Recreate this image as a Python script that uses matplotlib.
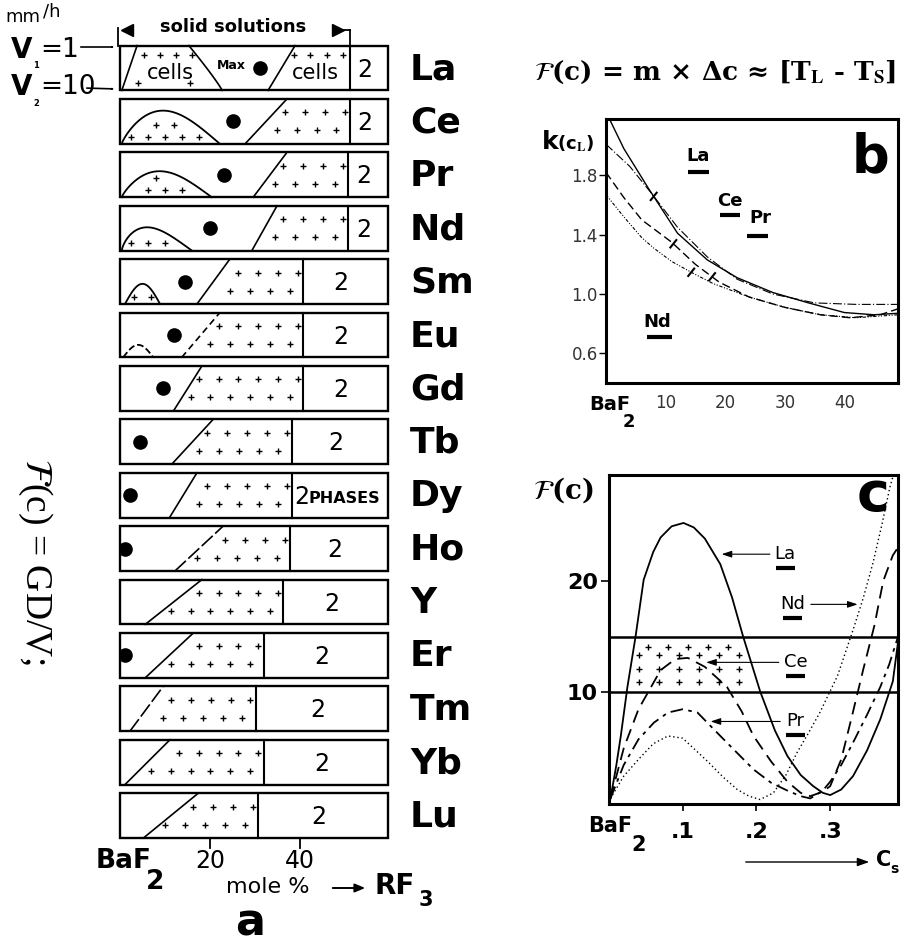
import numpy as np
import matplotlib
matplotlib.use("Agg")
import matplotlib.pyplot as plt
from matplotlib.patches import Rectangle

plt.rcParams["mathtext.fontset"] = "stix"
plt.rcParams["font.family"] = ["DejaVu Sans"]

W, H = 904, 948

# ---------------- panel a data (mole % RF3 at V1 = top edge, V2 = bottom edge) ----------------
elements    = ["La", "Ce", "Pr", "Nd", "Sm", "Eu", "Gd", "Tb", "Dy", "Ho", "Y", "Er", "Tm", "Yb", "Lu"]
ss_bottom   = [32.9, 27.8, 29.6, 29.3, 17.1, 13.7, 11.9, 11.5, 11.0, 12.2, 5.6, 5.6, 2.2, 1.1, 5.2]
ss_top      = [38.9, 37.1, 37.1, 34.9, 24.4, 22.2, 18.2, 20.7, 17.1, 22.9, 18.2, 16.3, 9.6, 11.1, 17.4]
two_phase   = [51.1, 51.1, 50.7, 50.7, 40.7, 40.7, 40.7, 38.2, 38.2, 37.8, 36.3, 31.9, 30.2, 31.9, 30.7]
max_pos     = [31.1, 25.1, 23.2, 20.0, 14.4, 11.9, 9.6, 4.4, 2.2, 1.2, None, 1.2, None, None, None]
dome_start  = [None, 0.4, 0.4, 0.4, 1.1, 0.7] + [None] * 9
dome_end    = [None, 22.2, 20.4, 16.0, 8.9, 7.4] + [None] * 9
dome_height = [None, 0.74, 0.58, 0.52, 0.45, 0.28] + [None] * 9
dome_peak   = [None, 0.42, 0.42, 0.36, 0.5, 0.5] + [None] * 9
la_cells_left = (0.4, 3.8)     # bottom, top
la_cells_right = (22.7, 15.3)  # bottom, top
box_right = 59.6
a_ticks = [20, 40]

# ---------------- panel b data ----------------
b_la_x = [0.7, 3, 7, 12, 17, 22, 28, 34, 40, 45, 49]
b_la_y = [2.17, 1.98, 1.72, 1.41, 1.23, 1.11, 1.01, 0.94, 0.875, 0.86, 0.87]
b_ce_x = [0, 4, 8, 12, 17, 22, 28, 35, 42, 49]
b_ce_y = [2.01, 1.86, 1.66, 1.45, 1.25, 1.10, 1.00, 0.94, 0.93, 0.93]
b_pr_x = [0, 3, 6, 11, 15, 19, 24, 30, 36, 41, 46, 49]
b_pr_y = [1.82, 1.65, 1.50, 1.35, 1.20, 1.08, 0.98, 0.91, 0.86, 0.84, 0.86, 0.90]
b_nd_x = [0, 3, 6, 8, 11, 14.6, 18, 24, 30, 36, 42, 49]
b_nd_y = [1.67, 1.52, 1.38, 1.31, 1.22, 1.14, 1.07, 0.98, 0.91, 0.86, 0.84, 0.86]
b_yticks = [0.6, 1.0, 1.4, 1.8]
b_ytick_labels = ["0.6", "1.0", "1.4", "1.8"]
b_xticks = [10, 20, 30, 40]
b_labels = ["La", "Ce", "Pr", "Nd"]
b_label_x = [15.5, 20.8, 25.9, 8.6]
b_label_y = [1.93, 1.63, 1.51, 0.81]
b_bar_x0 = [13.8, 19.2, 23.7, 6.9]
b_bar_x1 = [17.3, 22.5, 27.2, 11.1]
b_bar_y = [1.82, 1.53, 1.39, 0.71]

# ---------------- panel c data ----------------
c_la_x = [0.002, 0.01, 0.016, 0.025, 0.036, 0.047, 0.06, 0.07, 0.085, 0.101, 0.115, 0.13, 0.151, 0.167,
          0.182, 0.205, 0.225, 0.242, 0.26, 0.277, 0.29, 0.30, 0.315, 0.331, 0.35, 0.368, 0.385, 0.392]
c_la_y = [0.5, 3.5, 6.1, 10.5, 15.0, 20.1, 22.6, 23.9, 24.9, 25.2, 24.8, 23.8, 21.5, 18.5,
          15.0, 10.1, 6.6, 4.3, 2.6, 1.6, 1.0, 0.8, 1.3, 2.5, 4.8, 7.6, 11.0, 14.5]
c_ce_x = [0.002, 0.02, 0.04, 0.07, 0.09, 0.107, 0.13, 0.16, 0.18, 0.196, 0.22, 0.242, 0.26, 0.273,
          0.29, 0.30, 0.315, 0.33, 0.345, 0.36, 0.372, 0.385, 0.392]
c_ce_y = [0.5, 5.0, 8.5, 12.0, 13.0, 13.1, 12.3, 10.5, 8.3, 6.1, 3.8, 2.0, 1.0, 0.7,
          1.1, 1.6, 4.0, 8.0, 12.1, 16.0, 20.0, 22.3, 23.0]
c_pr_x = [0.002, 0.02, 0.04, 0.061, 0.08, 0.10, 0.12, 0.151, 0.175, 0.196, 0.22, 0.242, 0.26, 0.273,
          0.29, 0.30, 0.315, 0.331, 0.35, 0.368, 0.38, 0.392]
c_pr_y = [0.5, 3.5, 5.8, 7.3, 8.2, 8.5, 8.2, 6.1, 4.5, 3.1, 1.9, 1.2, 0.7, 0.5,
          1.2, 2.0, 3.5, 5.5, 8.0, 10.5, 12.5, 15.0]
c_nd_x = [0.002, 0.02, 0.04, 0.06, 0.08, 0.10, 0.134, 0.155, 0.174, 0.19, 0.205, 0.223, 0.24, 0.255,
          0.27, 0.286, 0.31, 0.331, 0.345, 0.358, 0.37, 0.381, 0.392]
c_nd_y = [0.5, 2.5, 4.0, 5.4, 6.1, 5.9, 3.8, 2.4, 1.3, 0.7, 0.4, 1.0, 2.6, 4.6,
          6.3, 8.2, 11.5, 15.6, 18.5, 21.6, 25.0, 28.4, 31.0]
c_band = (10.0, 15.0)
c_yticks = [10, 20]
c_xticks = [0.1, 0.2, 0.3]
c_xtick_labels = [".1", ".2", ".3"]
c_labels = ["La", "Nd", "Ce", "Pr"]
c_label_x = [0.239, 0.249, 0.253, 0.253]
c_label_y = [22.4, 17.9, 12.7, 7.4]
c_arrow_from = [0.222, 0.270, 0.234, 0.236]
c_arrow_to = [0.149, 0.341, 0.128, 0.134]

# =====================================================================
fig = plt.figure(figsize=(W / 100, H / 100), dpi=100)


def fpx(x, y):
    return (x / W, 1 - y / H)


def ftext(x, y, s, **kw):
    fig.text(x / W, 1 - y / H, s, **kw)


def farrow(x1, y1, x2, y2, style="->", lw=1.2, **kw):
    fig.add_artist(matplotlib.patches.FancyArrowPatch(
        fpx(x1, y1), fpx(x2, y2), transform=fig.transFigure,
        arrowstyle=style, lw=lw, color="k", **kw))


# ---------------- panel a ----------------
PXM, X0 = 4.5, 120.0
ROW0, ROWH = 68.0, 53.4
axa = fig.add_axes([0, 0, 1, 1])
axa.set_xlim(-X0 / PXM, (W - X0) / PXM)
axa.set_ylim((H - ROW0) / ROWH, -ROW0 / ROWH)
axa.axis("off")

BH = 0.42


def yb(r, h):
    return r + BH - 2 * BH * np.asarray(h)


def ypx(y):
    return (y - ROW0) / ROWH


def mpx(x):
    return (x - X0) / PXM


def plus(ax, xs, ys, ms=4.2):
    ax.plot(xs, ys, ls="none", marker="+", ms=ms, mew=1.0, color="k", zorder=3)


line_styles = {"Eu": (0, (4, 2.5)), "Ho": (0, (9, 2)), "Tm": (0, (9, 2))}
SP = 4.4

for r, el in enumerate(elements):
    rect = Rectangle((0, r - BH), box_right, 2 * BH, fill=False, lw=1.7, ec="k", zorder=3)
    axa.add_patch(rect)
    axa.plot([two_phase[r]] * 2, [r - BH, r + BH], color="k", lw=1.5)
    ls = line_styles.get(el, "-")
    axa.plot([ss_bottom[r], ss_top[r]], [r + BH, r - BH], color="k", lw=1.2, ls=ls)

    rows = ((0.7, 1.2), (0.3, 3.0)) if r > 0 else ((0.78, 1.6),)
    for h, off in rows:
        xl = ss_bottom[r] + (ss_top[r] - ss_bottom[r]) * h
        xs = np.arange(two_phase[r] - off, xl + 1.0, -SP if r > 0 else -3.6)
        plus(axa, xs, np.full(len(xs), yb(r, h)))

    if el == "Dy":
        axa.text(two_phase[r] + 0.5, r + 0.03, "2", ha="left", va="center", fontsize=17)
        axa.text(two_phase[r] + 3.8, r + 0.07, "PHASES", ha="left", va="center",
                 fontsize=11.5, fontweight="bold")
    else:
        axa.text((two_phase[r] + box_right) / 2 - 1.0, r + 0.03, "2", ha="center", va="center",
                 fontsize=17)

    if max_pos[r] is not None:
        dot, = axa.plot(max_pos[r], r, "o", ms=9.5, color="k", zorder=4)
        dot.set_clip_path(rect)

    if dome_start[r] is not None:
        s, e = dome_start[r], dome_end[r]
        p = np.log(0.5) / np.log(dome_peak[r])
        x = np.linspace(s, e, 120)
        yv = dome_height[r] * np.sin(np.pi * ((x - s) / (e - s)) ** p)
        axa.plot(x, yb(r, yv), color="k", lw=1.3, ls=("--" if el == "Eu" else "-"))
        for k, hh in enumerate((0.16, 0.42)):
            cand = np.arange(s + 2.0 + k * 1.9, e, 3.8)
            dv = dome_height[r] * np.sin(np.pi * ((cand - s) / (e - s)) ** p)
            keep = cand[dv > hh + 0.13]
            plus(axa, keep, np.full(len(keep), yb(r, hh)))

    axa.text(mpx(410), r + 0.02, el, fontsize=26, fontweight="bold", ha="left", va="center")

# La special cells region
r = 0
axa.plot([la_cells_left[0], la_cells_left[1]], [r + BH, r - BH], color="k", lw=1.2)
hh = np.linspace(0, 1, 50)
xc = la_cells_right[0] - (la_cells_right[0] - la_cells_right[1]) * hh ** 1.1
axa.plot(xc, yb(r, hh), color="k", lw=1.2)
h = 0.78
xl = la_cells_left[0] + (la_cells_left[1] - la_cells_left[0]) * h
xr = la_cells_right[0] - (la_cells_right[0] - la_cells_right[1]) * h ** 1.1
xs = np.arange(xl + 2.2, xr - 0.8, 3.6)
plus(axa, xs, np.full(len(xs), yb(r, h)))
plus(axa, [xl + 1.0, xr - 1.5], [yb(r, 0.17)] * 2)
axa.text(11.1, r + 0.1, "cells", ha="center", va="center", fontsize=15)
axa.text(43.5, r + 0.1, "cells", ha="center", va="center", fontsize=15)
axa.text(24.7, r - 0.04, "Max", ha="center", va="center", fontsize=9, fontweight="bold")

# solid-solution bracket
axa.plot([-0.4, -0.4], [-BH, ypx(28)], color="k", lw=1.3)
axa.plot([51.1, 51.1], [-BH, ypx(30)], color="k", lw=1.3)
axa.plot([48.2, 51.1], [ypx(30)] * 2, color="k", lw=1.3)
axa.plot(mpx(127), ypx(30), marker="<", ms=8, color="k")
axa.plot(mpx(338), ypx(30), marker=">", ms=8, color="k")
axa.text(25.1, ypx(27), "solid solutions", ha="center", va="center", fontsize=13,
         fontweight="bold")

# x ticks of panel a
for t in a_ticks:
    axa.plot([t, t], [len(elements) - 1 + BH, ypx(848)], color="k", lw=1.3)
    axa.text(t, ypx(861), str(t), ha="center", va="center", fontsize=17)

# left annotations
ftext(5, 17, "mm", fontsize=13, va="center", ha="left")
ftext(43, 11, "/h", fontsize=13, va="center", ha="left")
ftext(22, 50, "V", fontsize=20, fontweight="bold", ha="center", va="center")
ftext(36, 66, "1", fontsize=6, fontweight="bold", ha="center", va="center")
ftext(40, 50, "=1", fontsize=19, ha="left", va="center")
farrow(78, 47, 117, 47)
ftext(22, 87, "V", fontsize=20, fontweight="bold", ha="center", va="center")
ftext(36, 103, "2", fontsize=6, fontweight="bold", ha="center", va="center")
ftext(40, 87, "=10", fontsize=19, ha="left", va="center")
farrow(84, 88, 117, 89)
ftext(35, 562, r"$\mathcal{F}$(c) = GD/V;", rotation=270, fontsize=27,
      family=["Liberation Serif", "DejaVu Serif"], ha="center", va="center")

ftext(96, 861, "BaF", fontsize=19, fontweight="bold", ha="left", va="center")
ftext(155, 882, "2", fontsize=19, fontweight="bold", ha="center", va="center")
ftext(268, 887, "mole %", fontsize=16, ha="center", va="center")
farrow(330, 888, 368, 888, style="-|>,head_length=6,head_width=2.5", lw=1.4)
ftext(375, 886, "RF", fontsize=20, fontweight="bold", ha="left", va="center")
ftext(426, 900, "3", fontsize=15, fontweight="bold", ha="center", va="center")
ftext(250, 935, "a", fontsize=32, fontweight="bold", ha="center", va="baseline")

# ---------------- panel b ----------------
axb = fig.add_axes([606 / W, 1 - 383 / H, 292 / W, 264 / H])
axb.set_xlim(0, 49)
axb.set_ylim(0.4, 2.18)
for sp in axb.spines.values():
    sp.set_linewidth(2.2)
axb.plot(b_la_x, b_la_y, color="k", lw=1.0)
axb.plot(b_ce_x, b_ce_y, color="k", lw=0.8, ls=(0, (8, 2, 1, 2)))
axb.plot(b_pr_x, b_pr_y, color="k", lw=1.0, ls=(0, (6, 3)))
axb.plot(b_nd_x, b_nd_y, color="k", lw=0.8, ls=(0, (3, 1.5, 1, 1.5, 1, 1.5)))
axb.set_yticks(b_yticks)
axb.set_yticklabels(b_ytick_labels, fontsize=12, color="#333333")
axb.tick_params(axis="y", direction="out", length=5, width=1, pad=1)
axb.set_xticks(b_xticks)
axb.set_xticklabels([str(t) for t in b_xticks], fontsize=12, color="#333333")
axb.tick_params(axis="x", length=0, pad=8)
for lab, x, y, x0, x1, yb_ in zip(b_labels, b_label_x, b_label_y, b_bar_x0, b_bar_x1, b_bar_y):
    axb.text(x, y, lab, fontsize=13, fontweight="bold", ha="center", va="center")
    axb.plot([x0, x1], [yb_, yb_], color="k", lw=3, solid_capstyle="butt")
# short solubility marks on curves
for cx, cy, x in ((b_la_x, b_la_y, 8.0), (b_pr_x, b_pr_y, 11.3), (b_nd_x, b_nd_y, 14.3), (b_pr_x, b_pr_y, 17.8)):
    y = np.interp(x, cx, cy)
    axb.plot([x - 0.5, x + 0.5], [y - 0.025, y + 0.025], color="k", lw=1.5)
axb.text(44.4, 1.92, "b", fontsize=38, fontweight="bold", ha="center", va="center")
ftext(589, 404, "BaF", fontsize=14, fontweight="bold", ha="left", va="center")
ftext(629, 422, "2", fontsize=13, fontweight="bold", ha="center", va="center")
ftext(542, 142, "k", fontsize=18, fontweight="bold", ha="left", va="center")
ftext(557, 144, r"(c$_{\mathbf{L}}$)", fontsize=13, fontweight="bold", ha="left", va="center")
ftext(715, 72, r"$\mathcal{F}$(c) = m × Δc ≈ [T$_{\mathbf{L}}$ - T$_{\mathbf{S}}$]",
      fontsize=19, fontweight="bold", family=["DejaVu Serif"], ha="center", va="center")

# ---------------- panel c ----------------
axc = fig.add_axes([609 / W, 1 - 804 / H, 289 / W, 329 / H])
axc.set_xlim(0, 0.392)
axc.set_ylim(0, 29.5)
for sp in axc.spines.values():
    sp.set_linewidth(2.2)
axc.axhline(c_band[0], color="k", lw=1.8)
axc.axhline(c_band[1], color="k", lw=1.8)
axc.plot(c_la_x, c_la_y, color="k", lw=1.3)
axc.plot(c_ce_x, c_ce_y, color="k", lw=1.3, ls=(0, (7, 4)))
axc.plot(c_pr_x, c_pr_y, color="k", lw=1.3, ls=(0, (7, 3, 2, 3)))
axc.plot(c_nd_x, c_nd_y, color="k", lw=1.0, ls=(0, (1, 2)))
# + fill of the band inside the La curve
band_h = c_band[1] - c_band[0]
for k, f in enumerate((0.82, 0.68, 0.42, 0.18)):
    yy = c_band[0] + f * band_h
    xs = np.arange(0.041 + (0.012 if k == 0 else 0.0), 0.215, 0.027)
    inside = np.interp(xs, c_la_x, c_la_y) > yy + 0.6
    plus(axc, xs[inside], np.full(inside.sum(), yy), ms=5)
axc.set_yticks(c_yticks)
axc.set_yticklabels([str(t) for t in c_yticks], fontsize=16, fontweight="bold")
axc.tick_params(axis="y", direction="out", length=6, width=1.2, pad=2)
axc.set_xticks(c_xticks)
axc.set_xticklabels(c_xtick_labels, fontsize=16, fontweight="bold")
axc.tick_params(axis="x", direction="out", length=5, width=1.2, pad=8)
for lab, x, y, a0, a1 in zip(c_labels, c_label_x, c_label_y, c_arrow_from, c_arrow_to):
    axc.text(x, y, lab, fontsize=13, ha="center", va="center")
    axc.plot([x - 0.013, x + 0.013], [y - 1.2, y - 1.2], color="k", lw=3, solid_capstyle="butt")
    axc.annotate("", xy=(a1, y), xytext=(a0, y),
                 arrowprops=dict(arrowstyle="-|>,head_length=0.6,head_width=0.2", lw=0.8, color="k"))
axc.text(0.358, 27.6, "c", fontsize=40, fontweight="bold", ha="center", va="center")
ftext(533, 490, r"$\mathcal{F}$(c)", fontsize=20, fontweight="bold", family=["DejaVu Serif"],
      ha="left", va="center")
ftext(588, 826, "BaF", fontsize=15, fontweight="bold", ha="left", va="center")
ftext(639, 845, "2", fontsize=15, fontweight="bold", ha="center", va="center")
farrow(743, 862, 872, 862, style="-|>,head_length=7,head_width=2.5", lw=1.0)
ftext(876, 860, "C", fontsize=15, fontweight="bold", ha="left", va="center")
ftext(890, 869, "s", fontsize=10, fontweight="bold", ha="left", va="center")

fig.savefig("out.png", dpi=100)
